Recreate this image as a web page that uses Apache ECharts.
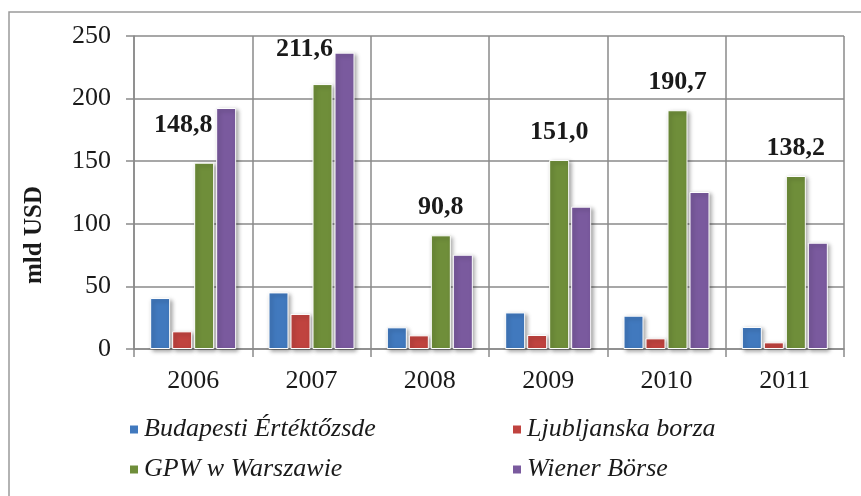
<!DOCTYPE html>
<html>
<head>
<meta charset="utf-8">
<script src="https://cdn.jsdelivr.net/npm/echarts@6/dist/echarts.min.js"></script>
<style>
  html, body { margin: 0; padding: 0; background: #fff; }
  #chart { width: 861px; height: 496px; }
</style>
</head>
<body>
<div id="chart"></div>
<script>
(function () {

  var years = ['2006', '2007', '2008', '2009', '2010', '2011'];
  var yTicks = [0, 50, 100, 150, 200, 250];

  var budapest = [40.7, 45.2, 17.3, 29.2, 26.6, 17.6];
  var ljubljana = [14.1, 28.0, 10.9, 11.2, 8.5, 5.3];
  var warszawa = [148.8, 211.6, 90.8, 151.0, 190.7, 138.2];
  var wien = [192.5, 236.7, 75.3, 113.7, 125.4, 84.9];

  var names = ['Budapesti Értéktőzsde', 'Ljubljanska borza', 'GPW w Warszawie', 'Wiener Börse'];
  var colors = ['#4179BE', '#C0433F', '#6F8E3A', '#7A5A9E'];

  var SERIF = '"Liberation Serif", "DejaVu Serif", serif';

  // the first two value labels sit up and to the left of their bars
  var labelShift = { 0: [-21, -19], 1: [-18, -17] };

  function _barStyle(color){
    return {
      color: color,
      borderColor: '#fff',
      borderWidth: 1,
      shadowColor: 'rgba(0,0,0,0.35)',
      shadowBlur: 4,
      shadowOffsetX: 2,
      shadowOffsetY: 2
    };
  }

  function _series(name, values, color, withLabels){
    var s = {
      name: name,
      type: 'bar',
      barWidth: 20,
      barGap: '10%',
      itemStyle: _barStyle(color),
      data: values.map(function (v, i) {
        if (!withLabels) return v;
        var off = labelShift[i] || [0, -10];
        return { value: v, label: { offset: off } };
      })
    };
    if (withLabels) {
      s.label = {
        show: true,
        position: 'top',
        distance: 5,
        fontFamily: SERIF,
        fontWeight: 'bold',
        fontSize: 26,
        color: '#1a1a1a',
        formatter: function (p) { return p.value.toFixed(1).replace('.', ','); }
      };
    }
    return s;
  }

  var chart = echarts.init(document.getElementById('chart'));

  var opt = {
    animation: false,
    backgroundColor: '#fff',
    grid: { left: 134, right: 17, top: 36, bottom: 147 },
    legend: {
      left: 123,
      top: 407,
      width: 790,
      itemWidth: 10,
      itemHeight: 10,
      itemGap: 5,
      icon: 'rect',
      data: names,
      textStyle: {
        fontFamily: SERIF,
        fontStyle: 'italic',
        fontSize: 26,
        color: '#1a1a1a',
        width: 362,
        lineHeight: 35,
        padding: [0, 0, 0, 0]
      }
    },
    xAxis: {
      type: 'category',
      data: years,
      axisLine: { lineStyle: { color: '#8a8a8a', width: 1.5 } },
      axisTick: { show: true, length: 8, lineStyle: { color: '#8a8a8a', width: 1.5 } },
      splitLine: { show: true, lineStyle: { color: '#8a8a8a', width: 1.5 } },
      axisLabel: { margin: 19, fontFamily: SERIF, fontSize: 26, color: '#1a1a1a' }
    },
    yAxis: {
      type: 'value',
      min: yTicks[0],
      max: yTicks[yTicks.length - 1],
      interval: 50,
      axisLine: { show: true, lineStyle: { color: '#8a8a8a', width: 1.5 } },
      axisTick: { show: true, length: 8, lineStyle: { color: '#8a8a8a', width: 1.5 } },
      splitLine: { show: true, lineStyle: { color: '#8a8a8a', width: 1.5 } },
      axisLabel: { margin: 23, fontFamily: SERIF, fontSize: 26, color: '#1a1a1a' }
    },
    graphic: [{
      type: 'rect',
      shape: { x: 9, y: 12, width: 900, height: 520 },
      style: { fill: null, stroke: '#9a9a9a', lineWidth: 1.5 },
      silent: true,
      z: -10
    }, {
      type: 'text',
      x: 35,
      y: 235,
      rotation: Math.PI / 2,
      style: {
        text: 'mld USD',
        fontFamily: SERIF,
        fontWeight: 'bold',
        fontSize: 25,
        fill: '#1a1a1a',
        align: 'center',
        verticalAlign: 'middle'
      }
    }],
    series: [
      _series(names[0], budapest, colors[0], false),
      _series(names[1], ljubljana, colors[1], false),
      _series(names[2], warszawa, colors[2], true),
      _series(names[3], wien, colors[3], false)
    ]
  };

  chart.setOption(opt);
})();
</script>
</body>
</html>
